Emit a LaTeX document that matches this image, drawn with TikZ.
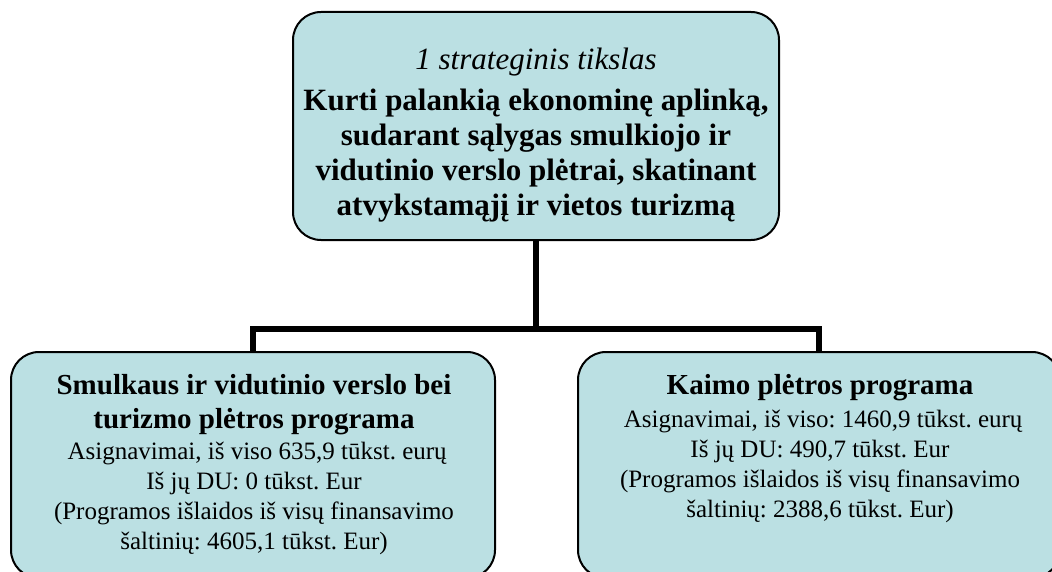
\documentclass[tikz,border=0pt]{standalone}
\usepackage{fontspec}
\setmainfont{Liberation Serif}
\frenchspacing
\definecolor{boxfill}{RGB}{187,224,227}
\begin{document}
\begin{tikzpicture}[x=1pt,y=-1pt,
  progbox/.style={draw=black,line width=2pt,fill=boxfill,rounded corners=28pt,inner sep=0pt},
  conn/.style={draw=black,line width=6pt,line join=miter},
  boxtext/.style={inner sep=0pt,align=center,anchor=north}]
\useasboundingbox (0,0) rectangle (1052,572);
\clip (0,0) rectangle (1052,572);
\fill[white] (0,0) rectangle (1052,572);
% boxes
\node[progbox,minimum width=486pt,minimum height=228pt] (goal) at (536,126) {};
\node[progbox,minimum width=484pt,minimum height=226pt] (left) at (253,465) {};
\node[progbox,minimum width=482pt,minimum height=226pt] (right) at (819,465) {};
% connectors
\coordinate (j) at (536,329);
\draw[conn] (goal.south) -- (goal.south |- j);
\draw[conn] (left.north) -- (left.north |- j) -- (right.north |- j) -- (right.north);
% texts
\node[boxtext,font=\fontsize{31}{35}\selectfont] (goaltext) at (536,48)
  {\textit{1 strateginis tikslas}\\[6pt]
   \textbf{Kurti palankią ekonominę aplinką,}\\
   \textbf{sudarant sąlygas smulkiojo ir}\\
   \textbf{vidutinio verslo plėtrai, skatinant}\\
   \textbf{atvykstamąjį ir vietos turizmą}};
\node[boxtext,font=\fontsize{25}{30}\selectfont] (lefttext) at (254,374)
  {{\fontsize{29}{34}\selectfont\bfseries Smulkaus ir vidutinio verslo bei}\\[4pt]
   {\fontsize{29}{34}\selectfont\bfseries turizmo plėtros programa}\\[1pt]
   \ Asignavimai, iš viso 635,9 tūkst. eurų\\
   Iš jų DU: 0 tūkst. Eur\\
   (Programos išlaidos iš visų finansavimo\\
   šaltinių: 4605,1 tūkst. Eur)};
\node[boxtext,font=\fontsize{25}{30}\selectfont] (righttext) at (820,374)
  {{\fontsize{29}{34}\selectfont\bfseries Kaimo plėtros programa}\\[3pt]
   \ Asignavimai, iš viso: 1460,9 tūkst. eurų\\
   Iš jų DU: 490,7 tūkst. Eur\\
   (Programos išlaidos iš visų finansavimo\\
   šaltinių: 2388,6 tūkst. Eur)};
\end{tikzpicture}
\end{document}
